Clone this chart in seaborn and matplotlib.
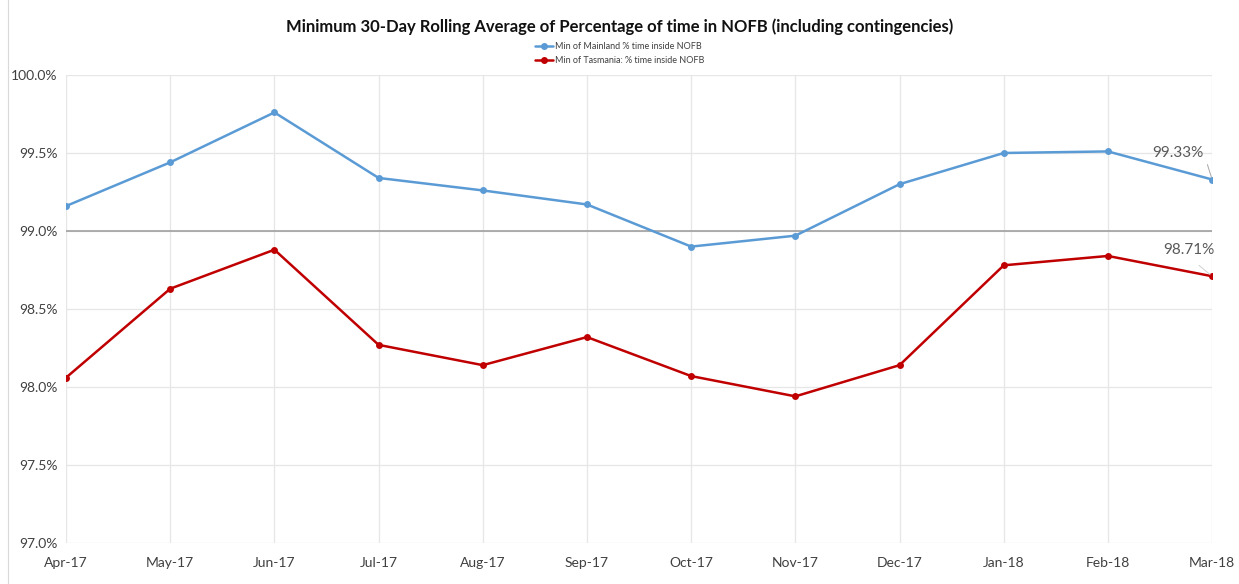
import pandas as pd
import seaborn as sns
import matplotlib.pyplot as plt
from matplotlib.lines import Line2D
from matplotlib.ticker import FuncFormatter

# data
months = ['Apr-17', 'May-17', 'Jun-17', 'Jul-17', 'Aug-17', 'Sep-17',
          'Oct-17', 'Nov-17', 'Dec-17', 'Jan-18', 'Feb-18', 'Mar-18']
mainland = [99.16, 99.44, 99.76, 99.34, 99.26, 99.17,
            98.90, 98.97, 99.30, 99.50, 99.51, 99.33]
tasmania = [98.06, 98.63, 98.88, 98.27, 98.14, 98.32,
            98.07, 97.94, 98.14, 98.78, 98.84, 98.71]

mainland_name = 'Min of Mainland % time inside NOFB'
tasmania_name = 'Min of Tasmania: % time inside NOFB'

df = pd.DataFrame({'pos': list(range(len(months))) * 2,
                   'value': mainland + tasmania,
                   'series': [mainland_name] * len(months) + [tasmania_name] * len(months)})

sns.set_theme(style='white')
plt.rcParams['font.family'] = ['Lato', 'DejaVu Sans']

fig = plt.figure(figsize=(12.39, 5.84), dpi=100)
ax = fig.add_axes([0.0533, 0.0702, 0.9250, 0.8014])

palette = {mainland_name: '#5B9BD5', tasmania_name: '#C00000'}
sns.lineplot(data=df, x='pos', y='value', hue='series', palette=palette,
             marker='o', markersize=5, markeredgewidth=0, linewidth=1.8,
             legend=False, ax=ax, zorder=3)

ax.set_xlim(0, len(months) - 1)
ax.set_ylim(97.0, 100.0)
ax.set_xticks(range(len(months)))
ax.set_xticklabels(months)
ax.set_yticks([97.0, 97.5, 98.0, 98.5, 99.0, 99.5, 100.0])
ax.yaxis.set_major_formatter(FuncFormatter(lambda v, p: f'{v:.1f}%'))
ax.tick_params(axis='both', labelsize=10, colors='#404040', length=0, pad=6)
ax.tick_params(axis='x', pad=10)
ax.set_xlabel('')
ax.set_ylabel('')

ax.grid(True, color='#e6e6e6', linewidth=0.9)
ax.axhline(99.0, color='#a0a0a0', linewidth=1.2, zorder=2)
for s in ax.spines.values():
    s.set_visible(False)

fig.suptitle('Minimum 30-Day Rolling Average of Percentage of time in NOFB (including contingencies)',
             x=0.5, y=0.968, fontsize=12, fontweight='bold', color='#111111')

handles = [Line2D([], [], color=palette[mainland_name], marker='o', markersize=4, linewidth=1.8),
           Line2D([], [], color=palette[tasmania_name], marker='o', markersize=4, linewidth=1.8)]
fig.legend(handles, [mainland_name, tasmania_name], loc='center', bbox_to_anchor=(0.5, 0.908),
           ncol=1, frameon=False, fontsize=6.5, handlelength=2.0, labelspacing=0.6,
           handletextpad=0.2, labelcolor='#404040')

# data labels on the last points
last = len(months) - 1
ax.annotate(f'{mainland[-1]:.2f}%', xy=(last, mainland[-1]), xytext=(last - 0.08, 99.50),
            ha='right', va='center', fontsize=11, color='#595959',
            arrowprops=dict(arrowstyle='-', color='#a6a6a6', linewidth=0.7,
                            shrinkA=1, shrinkB=2, relpos=(1.0, 0.5)))
ax.annotate(f'{tasmania[-1]:.2f}%', xy=(last, tasmania[-1]), xytext=(last + 0.02, 98.88),
            ha='right', va='center', fontsize=11, color='#595959',
            arrowprops=dict(arrowstyle='-', color='#d0d0d0', linewidth=0.7,
                            shrinkA=6, shrinkB=2, relpos=(0.5, 0.0)))

# thin border on the left edge of the chart area
fig.add_artist(Line2D([0.0068, 0.0068], [0.0, 1.0], color='#d9d9d9', linewidth=0.8))

fig.savefig('out.png', dpi=100)
